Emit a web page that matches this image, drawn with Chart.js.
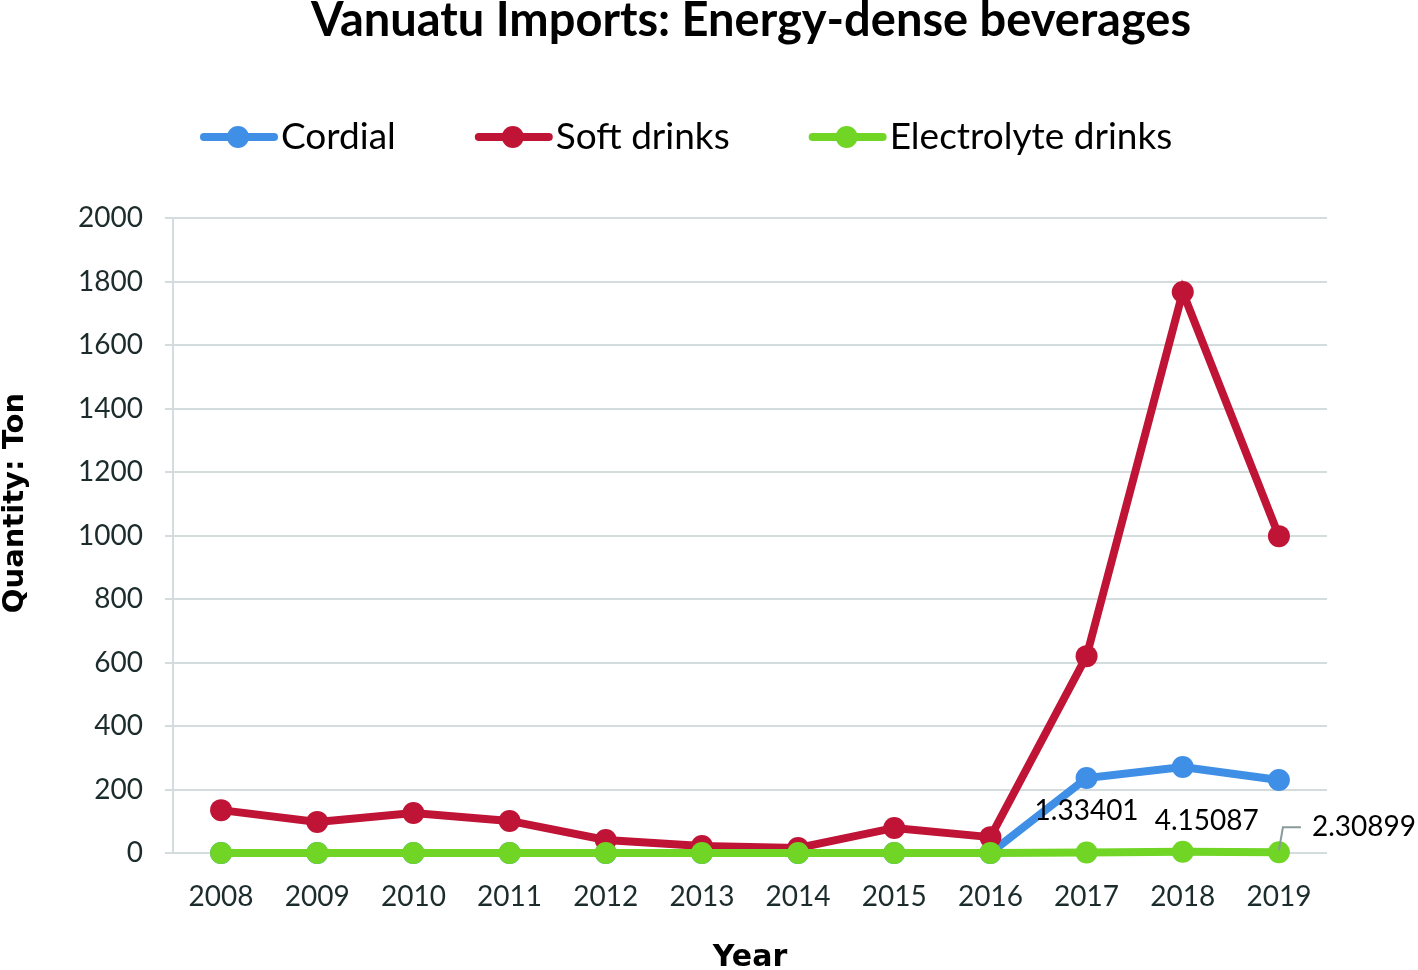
<!DOCTYPE html>
<html>
<head>
<meta charset="utf-8">
<script src="https://cdn.jsdelivr.net/npm/chart.js@4.4.1/dist/chart.umd.min.js"></script>
<style>
  html, body { margin: 0; padding: 0; background: #fff; }
  #wrap { width: 1418px; height: 970px; }
</style>
</head>
<body>
<div id="wrap"><canvas id="chart"></canvas></div>
<script>
// chart data
var years = ['2008','2009','2010','2011','2012','2013','2014','2015','2016','2017','2018','2019'];
var cordial = [0, 0, 0, 0, 0, 0, 0, 0, 0, 236, 271, 230];
var softDrinks = [135, 98, 126, 101, 41, 22, 16, 79, 50, 620, 1767, 998];
var electrolyte = [0, 0, 0, 0, 0, 0, 0, 0, 0, 1.33401, 4.15087, 2.30899];
var yTicks = [0, 200, 400, 600, 800, 1000, 1200, 1400, 1600, 1800, 2000];

var seriesNames = ['Cordial', 'Soft drinks', 'Electrolyte drinks'];
var seriesColors = ['#3f8fe6', '#c01437', '#70d524'];

var txtColor = '#1c2b2b';
var gridColor = '#d5dcdd';

// title, legend and y title drawn by hand (line with dot like the office chart)
var headerPlugin = {
  id: 'header',
  afterDraw: function(chart) {
    var ctx = chart.ctx;
    ctx.save();
    ctx.fillStyle = '#000';
    ctx.font = 'bold 47px Lato';
    ctx.textAlign = 'center';
    ctx.textBaseline = 'middle';
    ctx.fillText('Vanuatu Imports: Energy-dense beverages', 751, 21);

    // y axis title
    ctx.save();
    ctx.translate(15, 503);
    ctx.rotate(-Math.PI / 2);
    ctx.font = 'bold 29px "DejaVu Sans"';
    ctx.fillText('Quantity: Ton', 0, 0);
    ctx.restore();

    var x = 200, y = 137;
    ctx.font = '37px Lato';
    ctx.textAlign = 'left';
    chart.data.datasets.forEach(function(ds) {
      ctx.strokeStyle = ds.borderColor;
      ctx.lineWidth = 8;
      ctx.lineCap = 'round';
      ctx.beginPath();
      ctx.moveTo(x + 4, y);
      ctx.lineTo(x + 74, y);
      ctx.stroke();
      ctx.fillStyle = ds.borderColor;
      ctx.beginPath();
      ctx.arc(x + 38, y, 11, 0, Math.PI * 2);
      ctx.fill();
      ctx.fillStyle = '#000';
      ctx.fillText(ds.label, x + 81, y);
      x += 81 + ctx.measureText(ds.label).width + 79;
    });
    ctx.restore();
  }
};

// value labels on the last three electrolyte points
var labelPlugin = {
  id: 'valueLabels',
  afterDatasetsDraw: function(chart) {
    var ctx = chart.ctx;
    var meta = chart.getDatasetMeta(2);
    var offs = { 9: [0, -42], 10: [24, -31], 11: [85, -25] };
    ctx.save();
    ctx.font = '28px Lato';
    ctx.fillStyle = '#000';
    ctx.textBaseline = 'middle';
    ctx.textAlign = 'center';
    Object.keys(offs).forEach(function(k) {
      var i = +k;
      var pt = meta.data[i];
      var lx = pt.x + offs[i][0], ly = pt.y + offs[i][1];
      if (i === 11) {
        ctx.strokeStyle = '#8a9a9a';
        ctx.lineWidth = 2;
        ctx.beginPath();
        ctx.moveTo(pt.x, pt.y - 2);
        ctx.lineTo(pt.x + 4, ly);
        ctx.lineTo(pt.x + 22, ly);
        ctx.stroke();
      }
      ctx.fillText(String(chart.data.datasets[2].data[i]), lx, ly);
    });
    ctx.restore();
  }
};

// order: lower number is painted on top
function mkSet(idx, vals, ord) {
  return {
    label: seriesNames[idx],
    data: vals,
    order: ord,
    clip: false,
    borderColor: seriesColors[idx],
    backgroundColor: seriesColors[idx],
    borderWidth: 8,
    pointRadius: 11,
    pointHoverRadius: 11,
    pointBorderWidth: 0,
    tension: 0
  };
}

new Chart(document.getElementById('chart'), {
  type: 'line',
  data: {
    labels: years,
    datasets: [mkSet(0, cordial, 2), mkSet(1, softDrinks, 1), mkSet(2, electrolyte, 0)]
  },
  options: {
    responsive: true,
    maintainAspectRatio: false,
    animation: false,
    layout: { padding: { top: 218, right: 91, left: 0, bottom: 0 } },
    plugins: {
      legend: { display: false },
      title: { display: false },
      tooltip: { enabled: false }
    },
    scales: {
      x: {
        offset: true,
        grid: { display: false },
        border: { display: false },
        ticks: { color: txtColor, font: { family: 'Lato', size: 28 }, padding: 19, maxRotation: 0 },
        title: { display: true, text: 'Year', color: '#000', font: { family: 'DejaVu Sans', size: 30, weight: 'bold', lineHeight: 0.8 }, padding: 0 },
        afterFit: function(s) { s.height = 117; }
      },
      y: {
        min: 0, max: 2000,
        afterBuildTicks: function(s) { s.ticks = yTicks.map(function(v) { return { value: v }; }); },
        grid: { color: gridColor, lineWidth: 2, tickLength: 8 },
        border: { color: gridColor, width: 2 },
        ticks: { color: txtColor, font: { family: 'Lato', size: 28 }, padding: 22, callback: function(v) { return String(v); } },
        afterFit: function(s) { s.width = 173; }
      }
    }
  },
  plugins: [headerPlugin, labelPlugin]
});
</script>
</body>
</html>
